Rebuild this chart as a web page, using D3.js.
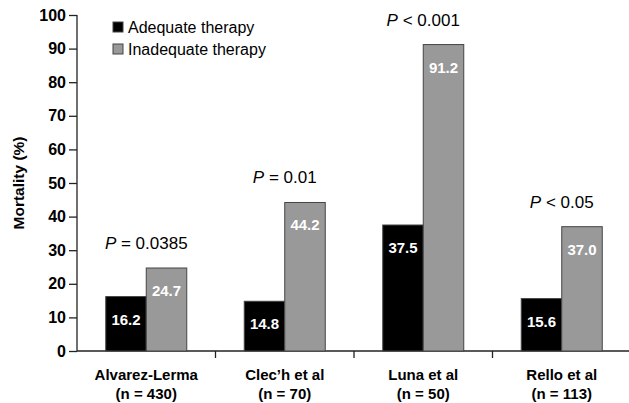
<!DOCTYPE html>
<html>
<head>
<meta charset="utf-8">
<script src="https://cdn.jsdelivr.net/npm/d3@7"></script>
<style>
  body { margin: 0; background: #fff; }
  svg { font-family: "Liberation Sans", Arial, Helvetica, sans-serif; }
</style>
</head>
<body>
<div id="chart"></div>
<script>
/* DATA */
const studies = ["Alvarez-Lerma", "Clec\u2019h et al", "Luna et al", "Rello et al"];
const sampleSizes = ["(n = 430)", "(n = 70)", "(n = 50)", "(n = 113)"];
const adequate = [16.2, 14.8, 37.5, 15.6];
const inadequate = [24.7, 44.2, 91.2, 37.0];
const pOps = ["= 0.0385", "= 0.01", "< 0.001", "< 0.05"];
const seriesNames = ["Adequate therapy", "Inadequate therapy"];
const yTicks = [0, 10, 20, 30, 40, 50, 60, 70, 80, 90, 100];

/* CONSTANTS */
const width = 629, height = 403,
  margin = ({top: 15, right: 0, bottom: 52, left: 77});
const colors = ["#000000", "#999999"];

const svg = d3.select("#chart")
  .append("svg")
  .attr("width", width)
  .attr("height", height);

const x = d3.scaleBand()
  .domain(studies)
  .range([margin.left, margin.left + 4 * 138.5]);

const xSub = d3.scaleBand()
  .domain(seriesNames)
  .range([0, 81]);

const y = d3.scaleLinear()
  .domain([0, 100])
  .range([height - margin.bottom, margin.top]);

// y axis
const yAxis = svg.append("g")
  .attr("transform", `translate(${margin.left},0)`)
  .call(d3.axisLeft(y).tickValues(yTicks).tickSize(8).tickPadding(3));
yAxis.selectAll("text")
  .style("font-size", "16px")
  .style("font-weight", "bold")
  .attr("fill", "#000");
yAxis.selectAll("line, path").attr("stroke", "#222").attr("stroke-width", 1.3);
yAxis.select(".domain").attr("d", `M0,${y(100)}V${y(0)}`);

// x axis line with category separators
const xAxis = svg.append("g")
  .attr("transform", `translate(0,${y(0)})`);
xAxis.append("line")
  .attr("x1", margin.left).attr("x2", width)
  .attr("stroke", "#222").attr("stroke-width", 1.3);
xAxis.selectAll("line.sep")
  .data(studies.slice(1))
  .join("line")
  .attr("class", "sep")
  .attr("x1", d => x(d)).attr("x2", d => x(d))
  .attr("y1", 0).attr("y2", 7)
  .attr("stroke", "#222").attr("stroke-width", 1.3);

// category labels
const catLabels = svg.append("g")
  .selectAll("text")
  .data(studies)
  .join("text")
  .attr("x", d => x(d) + x.bandwidth() / 2)
  .attr("y", y(0) + 29)
  .attr("text-anchor", "middle")
  .style("font-size", "15px")
  .style("font-weight", "bold");
catLabels.append("tspan").text(d => d);
catLabels.append("tspan")
  .attr("x", d => x(d) + x.bandwidth() / 2)
  .attr("dy", 19)
  .text((d, i) => sampleSizes[i]);

// bars
const groups = svg.append("g")
  .selectAll("g")
  .data(studies)
  .join("g")
  .attr("transform", d => `translate(${x(d) + x.bandwidth() / 2 - 40.5},0)`);

groups.selectAll("rect")
  .data((d, i) => [adequate[i], inadequate[i]].map((v, j) => ({key: seriesNames[j], value: v, j})))
  .join("rect")
  .attr("x", d => xSub(d.key))
  .attr("width", xSub.bandwidth())
  .attr("y", d => y(d.value))
  .attr("height", d => y(0) - y(d.value))
  .attr("fill", d => colors[d.j])
  .attr("stroke", "#444")
  .attr("stroke-width", 1);

groups.selectAll("text.val")
  .data((d, i) => [adequate[i], inadequate[i]].map((v, j) => ({key: seriesNames[j], value: v, j})))
  .join("text")
  .attr("class", "val")
  .attr("x", d => xSub(d.key) + xSub.bandwidth() / 2)
  .attr("y", d => y(d.value) + 28)
  .attr("text-anchor", "middle")
  .attr("fill", "#fff")
  .style("font-size", "15px")
  .style("font-weight", "bold")
  .text(d => d.value.toFixed(1));

// P values
const pLabels = svg.append("g")
  .selectAll("text")
  .data(studies)
  .join("text")
  .attr("x", d => x(d) + x.bandwidth() / 2)
  .attr("y", (d, i) => y(inadequate[i]) - 19)
  .attr("text-anchor", "middle")
  .style("font-size", "17px");
pLabels.append("tspan").style("font-style", "italic").text("P");
pLabels.append("tspan").text((d, i) => " " + pOps[i]);

// legend
const legend = svg.append("g")
  .attr("transform", "translate(113,22)");
const items = legend.selectAll("g")
  .data(seriesNames)
  .join("g")
  .attr("transform", (d, i) => `translate(0,${i * 22})`);
items.append("rect")
  .attr("width", 10).attr("height", 10)
  .attr("fill", (d, i) => colors[i])
  .attr("stroke", "#444");
items.append("text")
  .attr("x", 15).attr("y", 10.5)
  .style("font-size", "16px")
  .text(d => d);

// y title
svg.append("text")
  .attr("transform", `translate(24,${y(50)}) rotate(-90)`)
  .attr("text-anchor", "middle")
  .style("font-size", "15.5px")
  .style("font-weight", "bold")
  .text("Mortality (%)");
</script>
</body>
</html>
